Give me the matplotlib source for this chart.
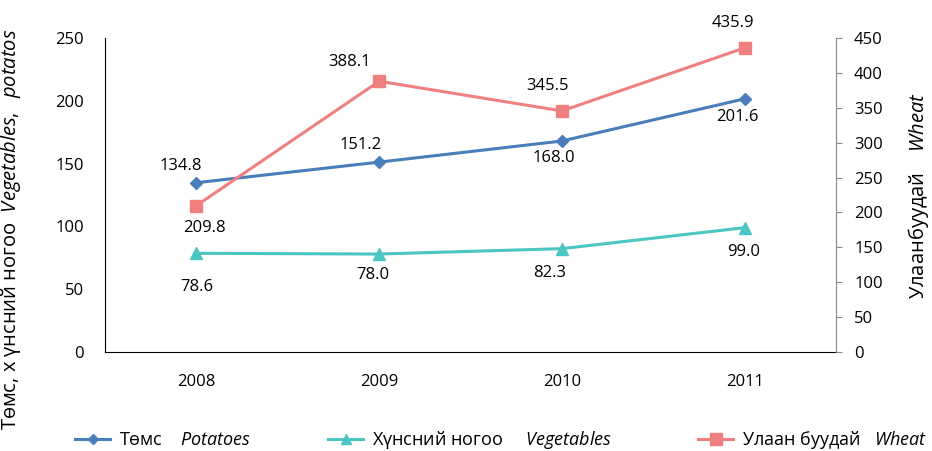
import matplotlib
matplotlib.use('Agg')
import matplotlib.pyplot as plt
from matplotlib.lines import Line2D

plt.rcParams['font.family'] = ['Open Sans', 'DejaVu Sans']
plt.rcParams['mathtext.fontset'] = 'custom'
plt.rcParams['mathtext.rm'] = 'Open Sans'
plt.rcParams['mathtext.it'] = 'Open Sans:italic'

years = ['2008', '2009', '2010', '2011']
potatoes = [134.8, 151.2, 168.0, 201.6]
vegetables = [78.6, 78.0, 82.3, 99.0]
wheat = [209.8, 388.1, 345.5, 435.9]

# label offsets in pixels (dx, dy)
pot_off = [(-16, 17), (-19, 17), (-8, -17), (-7, -18)]
veg_off = [(0, -34), (-6, -21), (-12, -24), (-1, -24)]
wht_off = [(8, -22), (-30, 19), (-14, 25), (-12, 25)]

c_pot = '#4a7ebb'
c_veg = '#4bc6c3'
c_wht = '#f08080'
fs = 12

fig = plt.figure(figsize=(9.32, 4.51), dpi=100)
ax = fig.add_axes([0.1127, 0.2195, 0.7843, 0.6962])
ax2 = ax.twinx()

x = range(len(years))
ax.plot(x, potatoes, color=c_pot, lw=2.2, marker='D', ms=6.5, zorder=3)
ax.plot(x, vegetables, color=c_veg, lw=2.2, marker='^', ms=8, zorder=3)
ax2.plot(x, wheat, color=c_wht, lw=2.2, marker='s', ms=9, zorder=3)

for i in x:
    ax.annotate(f'{potatoes[i]:.1f}', (i, potatoes[i]), xytext=pot_off[i],
                textcoords='offset pixels', ha='center', va='center', fontsize=fs)
    ax.annotate(f'{vegetables[i]:.1f}', (i, vegetables[i]), xytext=veg_off[i],
                textcoords='offset pixels', ha='center', va='center', fontsize=fs)
    ax2.annotate(f'{wheat[i]:.1f}', (i, wheat[i]), xytext=wht_off[i],
                 textcoords='offset pixels', ha='center', va='center', fontsize=fs)

ax.set_xlim(-0.5, 3.5)
ax.set_ylim(0, 250)
ax2.set_ylim(0, 450)
ax.set_xticks(list(x))
ax.set_xticklabels(years)
ax.set_yticks(range(0, 251, 50))
ax2.set_yticks(range(0, 451, 50))

ax.tick_params(axis='y', length=0, labelsize=fs, pad=15)
ax.tick_params(axis='x', length=0, labelsize=fs, pad=16)
ax2.tick_params(axis='y', length=4, direction='out', color='#888888', labelsize=fs, pad=9)

for s in ['top', 'right']:
    ax.spines[s].set_visible(False)
for s in ['top', 'left', 'bottom']:
    ax2.spines[s].set_visible(False)
ax.spines['left'].set_color('black')
ax.spines['bottom'].set_color('black')
ax2.spines['right'].set_color('#888888')

ax.set_ylabel(r'Төмс, х үнсний ногоо  $\mathit{Vegetables,}$  $\mathit{potatos}$', fontsize=14.5)
ax.yaxis.set_label_coords(-0.1125, 0.39)
ax2.set_ylabel(r'Улаанбуудай    $\mathit{Wheat}$', fontsize=14.5, rotation=90, va='center')
ax2.yaxis.set_label_coords(1.113, 0.50)

entries = [
    (c_pot, 'D', 5.5, r'Төмс    $\mathit{Potatoes}$', 75),
    (c_veg, '^', 7, r'Хүнсний ногоо     $\mathit{Vegetables}$', 328),
    (c_wht, 's', 8, r'Улаан буудай   $\mathit{Wheat}$', 698),
]
for col, mk, ms, lab, px in entries:
    h = Line2D([], [], color=col, lw=2.2, marker=mk, ms=ms)
    fig.legend([h], [lab], loc='center left', bbox_to_anchor=(px / 932, 1 - 440 / 451),
               frameon=False, fontsize=13, borderpad=0, borderaxespad=0,
               handlelength=1.95, handletextpad=0.5)

fig.savefig('out.png', dpi=100)
